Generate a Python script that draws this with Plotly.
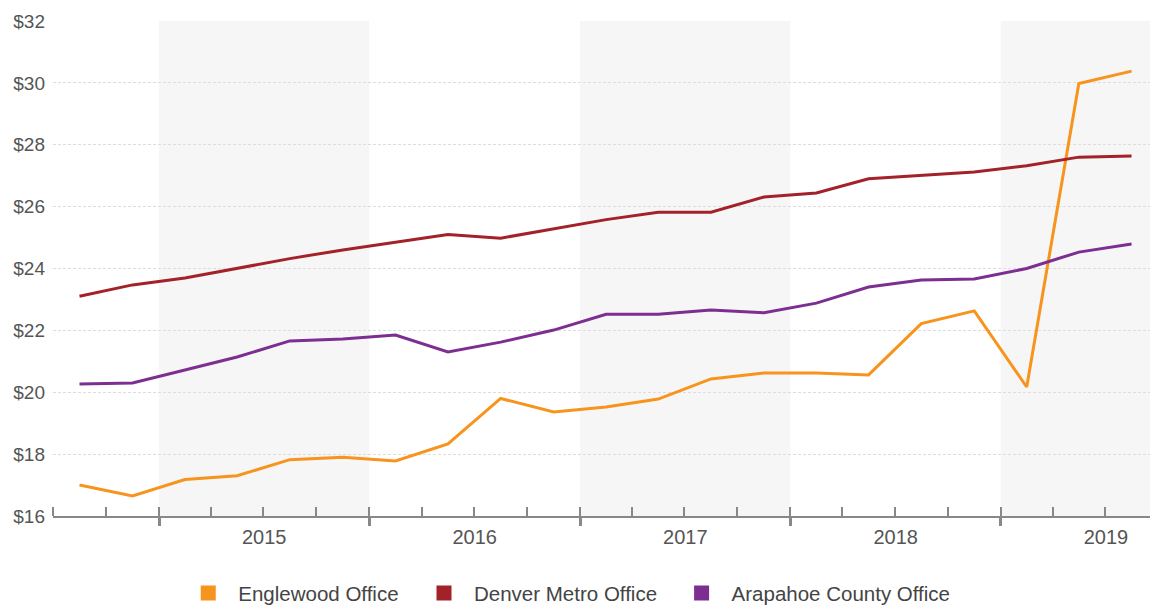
import pandas as pd
import plotly.graph_objects as go

quarters = ["2014Q3", "2014Q4",
            "2015Q1", "2015Q2", "2015Q3", "2015Q4",
            "2016Q1", "2016Q2", "2016Q3", "2016Q4",
            "2017Q1", "2017Q2", "2017Q3", "2017Q4",
            "2018Q1", "2018Q2", "2018Q3", "2018Q4",
            "2019Q1", "2019Q2", "2019Q3"]

englewood = [17.0, 16.65, 17.18, 17.3, 17.82, 17.9, 17.78, 18.33, 19.8, 19.36,
             19.52, 19.78, 20.43, 20.62, 20.62, 20.56, 22.22, 22.63, 20.17, 29.98, 30.38]
denver = [23.1, 23.47, 23.69, 24.0, 24.32, 24.6, 24.86, 25.1, 24.98, 25.28,
          25.58, 25.82, 25.82, 26.31, 26.44, 26.9, 27.02, 27.12, 27.32, 27.6, 27.64]
arapahoe = [20.27, 20.3, 20.72, 21.14, 21.66, 21.72, 21.85, 21.3, 21.62, 22.01,
            22.52, 22.52, 22.66, 22.57, 22.88, 23.4, 23.63, 23.66, 24.0, 24.53, 24.79]

series_names = ["Englewood Office", "Denver Metro Office", "Arapahoe County Office"]
series_colors = ["#F7941D", "#A3222A", "#7D2E91"]
legend_ids = ["legend", "legend2", "legend3"]
legend_x = [0.155, 0.360, 0.584]

year_labels = ["2015", "2016", "2017", "2018", "2019"]
shaded_years = [2015, 2017, 2019]

x_start = "2014-07-01"
x_end = "2019-09-17"

periods = [pd.Period(q, freq="Q") for q in quarters]
xdates = [p.start_time + (p.end_time - p.start_time) / 2 for p in periods]

fig = go.Figure()

for name, vals, col in zip(series_names, [englewood, denver, arapahoe], series_colors):
    fig.add_trace(go.Scatter(x=xdates, y=vals, mode="lines", name=name,
                             line=dict(color=col, width=3), showlegend=False))

for name, col, lg in zip(series_names, series_colors, legend_ids):
    fig.add_trace(go.Scatter(x=[None], y=[None], mode="markers", name=name, legend=lg,
                             marker=dict(symbol="square", size=15, color=col)))

for yr in shaded_years:
    fig.add_shape(type="rect", xref="x", yref="paper",
                  x0=f"{yr}-01-01", x1=f"{yr + 1}-01-01", y0=0, y1=1,
                  fillcolor="#f6f6f6", line=dict(width=0), layer="below")

label_pos = [pd.Timestamp(f"{y}-01-01") + (pd.Timestamp(f"{int(y) + 1}-01-01") - pd.Timestamp(f"{y}-01-01")) / 2
             for y in year_labels]

legend_style = dict(orientation="h", xref="container", xanchor="left", yref="container",
                    y=0.021, yanchor="middle", itemwidth=50,
                    font=dict(size=20.5, color="#444444"), bgcolor="rgba(0,0,0,0)")

fig.update_layout(
    width=1150, height=606,
    margin=dict(l=53, r=0, t=21, b=90, autoexpand=False),
    plot_bgcolor="white", paper_bgcolor="white",
    font=dict(family="Liberation Sans, Arial, sans-serif", color="#555555"),
    xaxis=dict(
        type="date", range=[x_start, x_end], automargin=False,
        tickmode="array", tickvals=label_pos, ticktext=year_labels,
        ticks="", showgrid=False, zeroline=False,
        showline=True, linecolor="#888888", linewidth=2,
        tickfont=dict(size=20, color="#555555"), ticklabelstandoff=2,
        minor=dict(tickmode="linear", tick0="2014-07-01", dtick="M3",
                   ticks="inside", ticklen=9, tickwidth=1.5, tickcolor="#888888",
                   showgrid=False),
    ),
    xaxis2=dict(
        type="date", range=[x_start, x_end], overlaying="x", anchor="y", side="bottom",
        tickmode="linear", tick0="2015-01-01", dtick="M12", automargin=False,
        ticks="outside", ticklen=9, tickwidth=2.5, tickcolor="#888888",
        showticklabels=False, showgrid=False, zeroline=False, showline=False,
    ),
    yaxis=dict(
        range=[16, 32], dtick=2, tickprefix="$", automargin=False,
        showgrid=True, gridcolor="#dddddd", griddash="3px,2px", gridwidth=1,
        zeroline=False, showline=False, ticks="", ticklabelstandoff=7,
        tickfont=dict(size=19, color="#555555"),
    ),
    legend=dict(x=legend_x[0], **legend_style),
    legend2=dict(x=legend_x[1], **legend_style),
    legend3=dict(x=legend_x[2], **legend_style),
)

# invisible trace to attach the secondary axis
fig.add_trace(go.Scatter(x=[x_start], y=[None], xaxis="x2", yaxis="y",
                         mode="lines", showlegend=False, hoverinfo="skip"))

fig.write_html("out.html", config={"displayModeBar": False},
               post_script="document.body.style.margin='0';")
